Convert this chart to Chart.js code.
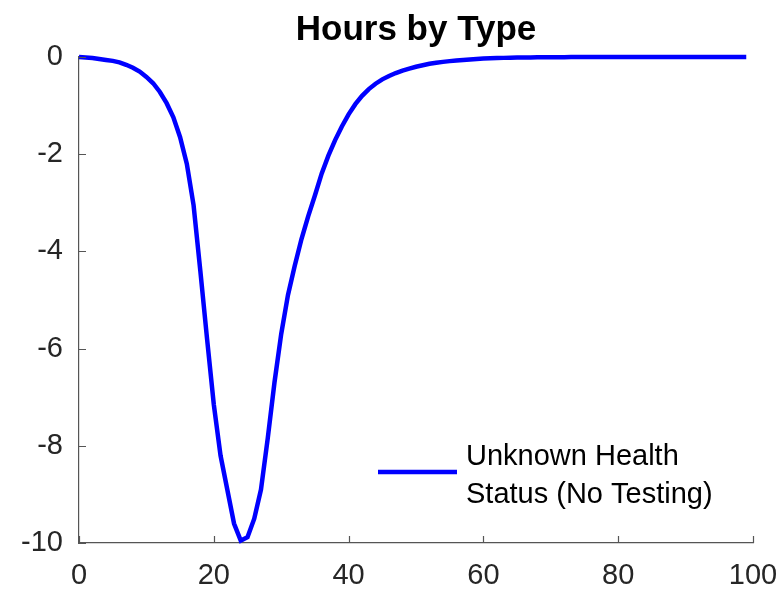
<!DOCTYPE html>
<html lang="en">
<head>
    <meta charset="UTF-8">
    <title>Hours by Type</title>
    <script src="https://cdn.jsdelivr.net/npm/chart.js"></script>
    <style>
        html, body { margin: 0; padding: 0; background: #fff; }
        #wrap { width: 779px; height: 590px; }
    </style>
</head>
<body>
    <div id="wrap"><canvas id="chart" width="779" height="590"></canvas></div>

    <script>
        // values, one per hour starting at 0
        const hoursChange = [
            0, -0.01, -0.02, -0.04, -0.06, -0.08, -0.11, -0.16, -0.22, -0.3,
            -0.41, -0.54, -0.72, -0.95, -1.24, -1.65, -2.2, -3.05, -4.4, -5.8,
            -7.15, -8.2, -8.9, -9.6, -9.95, -9.88, -9.5, -8.9, -7.85, -6.7,
            -5.7, -4.9, -4.3, -3.75, -3.28, -2.85, -2.4, -2.03, -1.71, -1.43,
            -1.18, -0.97, -0.8, -0.66, -0.55, -0.46, -0.39, -0.33, -0.28, -0.24,
            -0.2, -0.17, -0.14, -0.12, -0.1, -0.085, -0.07, -0.06, -0.05, -0.04,
            -0.033, -0.027, -0.022, -0.018, -0.015, -0.012, -0.01, -0.008, -0.006, -0.005,
            -0.004, -0.003, -0.003, -0.002, -0.002, -0.001, -0.001, -0.001, 0, 0,
            0, 0, 0, 0, 0, 0, 0, 0, 0, 0,
            0, 0, 0, 0, 0, 0, 0, 0, 0, 0
        ];
        const hours = hoursChange.map((_, i) => i);
        const seriesLabel = ['Unknown Health', 'Status (No Testing)'];
        const chartTitle = 'Hours by Type';
        const xTicks = [0, 20, 40, 60, 80, 100];
        const yTicks = [-10, -8, -6, -4, -2, 0];

        const textColor = '#262626';
        const axisColor = '#555555';
        const fontFamily = '"Liberation Sans", Arial, Helvetica, sans-serif';

        // matlab style: tick marks point into the plot
        const innerTicks = {
            id: 'innerTicks',
            afterDraw(chart) {
                const ctx = chart.ctx;
                const area = chart.chartArea;
                const xs = chart.scales.x, ys = chart.scales.y;
                ctx.save();
                ctx.strokeStyle = axisColor;
                ctx.lineWidth = 1.2;
                ctx.beginPath();
                xs.ticks.forEach(t => {
                    const px = Math.round(xs.getPixelForValue(t.value)) + 0.5;
                    ctx.moveTo(px, area.bottom);
                    ctx.lineTo(px, area.bottom - 7);
                });
                ys.ticks.forEach(t => {
                    const py = Math.round(ys.getPixelForValue(t.value)) + 0.5;
                    ctx.moveTo(area.left, py);
                    ctx.lineTo(area.left + 7, py);
                });
                ctx.stroke();
                ctx.restore();
            }
        };

        // title centred over the plot, legend in the lower right with a two line label
        const decorations = {
            id: 'decorations',
            afterDraw(chart) {
                const ctx = chart.ctx;
                const area = chart.chartArea;
                const ds = chart.data.datasets[0];
                ctx.save();
                ctx.fillStyle = '#000';
                ctx.font = 'bold 35px ' + fontFamily;
                ctx.textAlign = 'center';
                ctx.textBaseline = 'alphabetic';
                ctx.fillText(chartTitle, (area.left + area.right) / 2, area.top - 17);

                const lineY = area.bottom - 71;
                ctx.strokeStyle = ds.borderColor;
                ctx.lineWidth = ds.borderWidth;
                ctx.beginPath();
                ctx.moveTo(area.right - 375, lineY);
                ctx.lineTo(area.right - 296, lineY);
                ctx.stroke();
                ctx.font = '29px ' + fontFamily;
                ctx.textBaseline = 'middle';
                ctx.textAlign = 'left';
                seriesLabel.forEach((line, i) => {
                    ctx.fillText(line, area.right - 287, lineY - 15 + i * 38);
                });
                ctx.restore();
            }
        };

        new Chart(document.getElementById('chart'), {
            type: 'line',
            data: {
                labels: hours,
                datasets: [{
                    label: seriesLabel.join(' '),
                    data: hours.map((h, i) => ({ x: h, y: hoursChange[i] })),
                    borderColor: '#0000ff',
                    borderWidth: 4.5,
                    pointRadius: 0,
                    tension: 0,
                    fill: false,
                    clip: false
                }]
            },
            options: {
                responsive: false,
                animation: false,
                layout: { padding: { left: 0, right: 26, top: 57, bottom: 0 } },
                plugins: {
                    legend: { display: false },
                    tooltip: { enabled: false },
                    title: { display: false }
                },
                scales: {
                    x: {
                        type: 'linear',
                        min: 0,
                        max: 100,
                        afterBuildTicks: s => { s.ticks = xTicks.map(v => ({ value: v })); },
                        afterFit: s => { s.height = 47; s.paddingLeft = 0; s.paddingRight = 0; },
                        grid: { display: true, drawOnChartArea: false, drawTicks: false },
                        border: { display: true, color: axisColor, width: 1.2 },
                        ticks: {
                            color: textColor,
                            padding: 16,
                            maxRotation: 0,
                            font: { family: fontFamily, size: 29 }
                        }
                    },
                    y: {
                        type: 'linear',
                        min: -10,
                        max: 0,
                        afterBuildTicks: s => { s.ticks = yTicks.map(v => ({ value: v })); },
                        afterFit: s => { s.width = 79; s.paddingTop = 0; s.paddingBottom = 0; },
                        grid: { display: true, drawOnChartArea: false, drawTicks: false },
                        border: { display: true, color: axisColor, width: 1.2 },
                        ticks: {
                            color: textColor,
                            padding: 16,
                            font: { family: fontFamily, size: 29 }
                        }
                    }
                }
            },
            plugins: [innerTicks, decorations]
        });
    </script>
</body>
</html>
